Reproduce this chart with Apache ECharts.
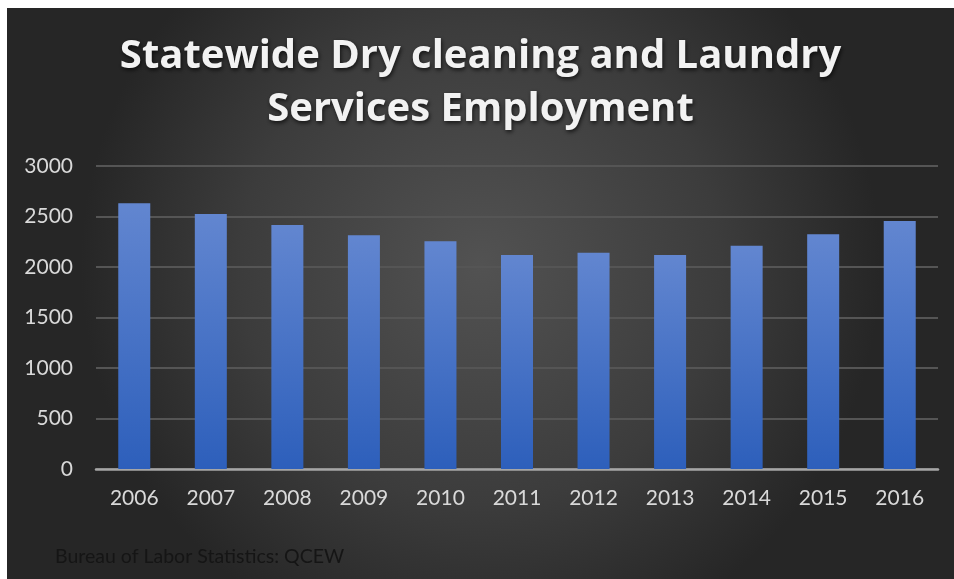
<!DOCTYPE html>
<html>
<head>
<meta charset="utf-8">
<script src="https://cdn.jsdelivr.net/npm/echarts@6/dist/echarts.min.js"></script>
<style>
  html, body { margin: 0; padding: 0; background: #ffffff; }
  #chart { position: absolute; left: 7px; top: 8px; width: 947px; height: 571px; }
</style>
</head>
<body>
<div id="chart"></div>
<script>
// Employment in dry cleaning and laundry services, statewide
const years = ['2006', '2007', '2008', '2009', '2010', '2011', '2012', '2013', '2014', '2015', '2016'];
const employment = [2630, 2525, 2415, 2315, 2255, 2120, 2140, 2120, 2210, 2325, 2455];
const yTicks = { min: 0, max: 3000, interval: 500 };
const titleText = 'Statewide Dry cleaning and Laundry\nServices Employment';
const sourceText = 'Bureau of Labor Statistics: QCEW';

const chart = echarts.init(document.getElementById('chart'));
const labelFont = 'Lato, "Open Sans", sans-serif';

chart.setOption({
  backgroundColor: {
    type: 'radial', x: 0.5, y: 0.45, r: 0.7,
    colorStops: [
      { offset: 0, color: '#525252' },
      { offset: 0.6, color: '#3c3c3c' },
      { offset: 1, color: '#262626' }
    ]
  },
  title: {
    text: titleText,
    left: 'center',
    top: 17,
    textStyle: {
      color: '#f2f2f2',
      fontFamily: '"Open Sans", sans-serif',
      fontWeight: 'bold',
      fontSize: 40,
      lineHeight: 53,
      textShadowColor: 'rgba(0,0,0,0.7)',
      textShadowBlur: 4,
      textShadowOffsetX: 1,
      textShadowOffsetY: 2
    }
  },
  grid: { left: 89, right: 16, top: 158, bottom: 110, containLabel: false },
  xAxis: {
    type: 'category',
    data: years,
    axisTick: { show: false },
    axisLine: { lineStyle: { color: '#a6a6a6', width: 2.5 } },
    axisLabel: { color: '#d9d9d9', fontSize: 21, fontFamily: labelFont, margin: 19 }
  },
  yAxis: {
    type: 'value',
    min: yTicks.min,
    max: yTicks.max,
    interval: yTicks.interval,
    axisLine: { show: false },
    axisTick: { show: false },
    axisLabel: {
      color: '#d9d9d9', fontSize: 21, fontFamily: labelFont, margin: 23,
      formatter: v => String(v)
    },
    splitLine: { lineStyle: { color: '#555555', width: 2 } }
  },
  series: [{
    type: 'bar',
    data: employment,
    barWidth: 32,
    itemStyle: {
      color: {
        type: 'linear', x: 0, y: 0, x2: 0, y2: 1,
        colorStops: [
          { offset: 0, color: '#6286d0' },
          { offset: 1, color: '#2d5fbb' }
        ]
      },
      shadowColor: 'rgba(0,0,0,0.55)',
      shadowBlur: 8,
      shadowOffsetX: 3,
      shadowOffsetY: 3
    },
    silent: true
  }],
  graphic: [{
    type: 'text',
    left: 48,
    top: 539,
    style: {
      text: sourceText,
      fill: '#151515',
      font: '19.5px ' + labelFont
    }
  }]
});
</script>
</body>
</html>
